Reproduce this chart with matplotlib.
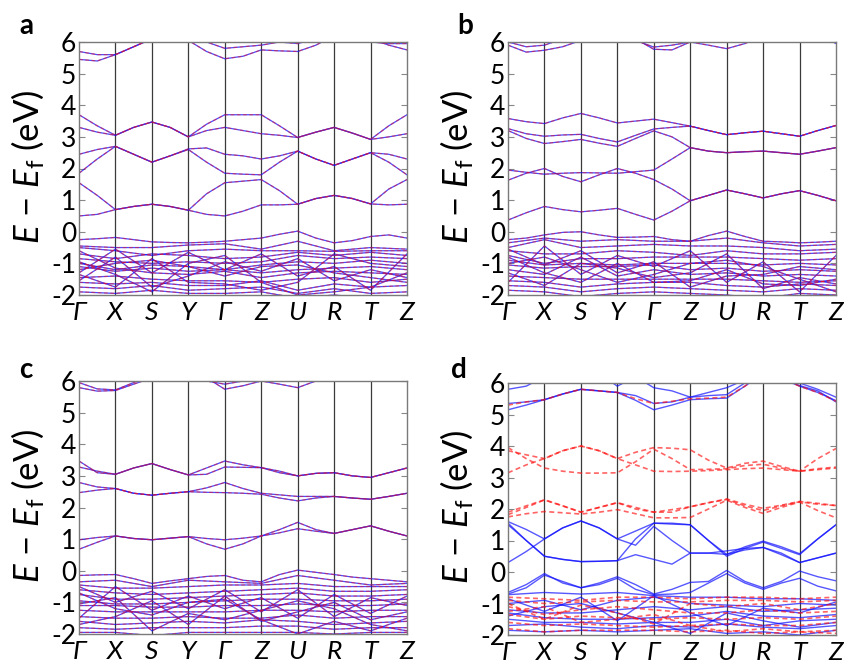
"""Spin-resolved band structures, four panels (a-d)."""
import matplotlib
matplotlib.use('Agg')
import matplotlib.pyplot as plt
import numpy as np

plt.rcParams['font.family'] = ['Lato', 'DejaVu Sans']
plt.rcParams['mathtext.fontset'] = 'custom'
plt.rcParams['mathtext.rm'] = 'Lato'
plt.rcParams['mathtext.it'] = 'Lato:italic'
plt.rcParams['axes.unicode_minus'] = False

# k-path
K_LABELS = ['Γ', 'X', 'S', 'Y', 'Γ', 'Z', 'U', 'R', 'T', 'Z']
K_NODES = np.arange(10)
K_FINE = np.arange(19) / 2.0   # nodes + segment midpoints

# ---------------- panel a ----------------
A_COND = [
    [0.5, 0.55, 0.7, 0.8, 0.87, 0.8, 0.68, 0.55, 0.5, 0.65, 0.85, 0.85, 0.87, 1.05, 1.15, 1.05, 0.88, 0.85, 0.87],
    [1.55, 1.15, 0.7, 0.8, 0.87, 0.8, 0.68, 1.2, 1.55, 1.6, 1.65, 1.3, 0.87, 1.05, 1.15, 1.05, 0.88, 1.35, 1.65],
    [1.85, 2.3, 2.7, 2.45, 2.2, 2.4, 2.6, 2.2, 1.85, 1.82, 1.8, 2.2, 2.55, 2.3, 2.1, 2.3, 2.5, 2.2, 1.8],
    [2.45, 2.6, 2.7, 2.45, 2.2, 2.4, 2.62, 2.65, 2.45, 2.4, 2.3, 2.4, 2.55, 2.3, 2.1, 2.3, 2.5, 2.45, 2.3],
    [3.3, 3.15, 3.05, 3.3, 3.47, 3.3, 3.0, 3.2, 3.3, 3.2, 3.1, 3.05, 2.98, 3.15, 3.3, 3.12, 2.92, 3.0, 3.1],
    [3.7, 3.35, 3.05, 3.3, 3.47, 3.3, 3.0, 3.4, 3.7, 3.7, 3.7, 3.35, 2.98, 3.15, 3.3, 3.12, 2.92, 3.35, 3.7],
    [5.45, 5.4, 5.6, 5.85, 6.1, 6.2, 6.05, 5.7, 5.47, 5.55, 5.75, 5.72, 5.7, 5.9, 6.2, 6.3, 6.1, 5.9, 5.75],
    [5.7, 5.6, 5.6, 5.85, 6.1, 6.3, 6.3, 6.0, 5.8, 5.85, 5.9, 6.0, 5.95, 6.1, 6.4, 6.3, 6.0, 5.95, 5.95],
    [-0.25, -0.22, -0.18, -0.25, -0.32, -0.34, -0.35, -0.33, -0.3, -0.25, -0.2, -0.08, 0.02, -0.2, -0.35, -0.28, -0.15, -0.1, -0.2],
]
A_VAL = [
    [-0.45, -0.5, -0.5, -0.42, -0.38, -0.55, -0.3, -0.6, -0.5, -0.55],
    [-0.5, -0.6, -0.75, -0.6, -0.55, -0.6, -0.6, -0.62, -0.6, -0.6],
    [-0.7, -0.85, -0.7, -0.75, -0.85, -0.8, -0.65, -0.75, -0.65, -0.75],
    [-0.85, -0.95, -1.0, -0.95, -1.0, -0.95, -0.75, -0.85, -0.8, -0.85],
    [-1.0, -1.2, -1.05, -1.1, -1.2, -1.05, -0.95, -1.0, -0.9, -1.0],
    [-1.1, -1.25, -1.15, -1.25, -1.2, -1.3, -1.2, -1.15, -1.1, -1.2],
    [-1.3, -0.55, -1.3, -1.35, -1.25, -1.45, -1.3, -1.25, -1.3, -1.35],
    [-1.45, -1.4, -1.5, -1.55, -1.55, -1.6, -1.5, -1.45, -1.6, -1.5],
    [-1.6, -1.65, -1.6, -1.7, -1.7, -1.55, -1.85, -1.65, -1.75, -1.7],
    [-1.75, -1.8, -1.7, -1.85, -1.8, -1.75, -1.95, -1.8, -1.95, -1.9],
    [-1.9, -1.95, -1.85, -1.95, -1.95, -1.9, -2.1, -2.0, -2.1, -2.05],
    [-0.95, -1.35, -1.9, -1.0, -0.75, -1.6, -2.0, -1.9, -1.75, -1.3],
    [-1.2, -1.0, -0.9, -1.1, -1.4, -1.1, -1.05, -1.3, -1.45, -1.6],
    [-0.6, -1.15, -1.3, -0.65, -1.2, -0.7, -1.4, -1.1, -1.85, -0.7],
    [-1.55, -0.8, -1.75, -1.4, -0.95, -1.25, -0.85, -1.55, -1.2, -1.45],
    [-1.35, -1.75, -0.85, -1.6, -1.65, -1.85, -1.6, -0.7, -1.0, -1.1],
]

# ---------------- panel b ----------------
B_COND = [
    [0.37, 0.6, 0.8, 0.7, 0.63, 0.68, 0.74, 0.55, 0.37, 0.65, 0.98, 1.15, 1.32, 1.2, 1.07, 1.2, 1.3, 1.15, 0.98],
    [1.63, 1.85, 2.0, 1.75, 1.58, 1.8, 2.0, 1.85, 1.65, 1.35, 0.98, 1.15, 1.32, 1.2, 1.07, 1.2, 1.3, 1.15, 0.98],
    [1.95, 1.88, 1.82, 1.85, 1.87, 1.86, 1.85, 1.9, 1.95, 2.3, 2.66, 2.55, 2.5, 2.53, 2.55, 2.5, 2.45, 2.55, 2.66],
    [3.2, 2.95, 2.79, 2.85, 2.92, 2.8, 2.7, 2.95, 3.19, 3.0, 2.66, 2.55, 2.5, 2.53, 2.55, 2.5, 2.45, 2.55, 2.66],
    [3.26, 3.1, 3.02, 3.06, 3.08, 2.95, 2.84, 3.05, 3.25, 3.3, 3.34, 3.2, 3.07, 3.13, 3.18, 3.1, 3.02, 3.2, 3.36],
    [3.58, 3.48, 3.42, 3.6, 3.74, 3.6, 3.44, 3.5, 3.56, 3.45, 3.34, 3.2, 3.07, 3.13, 3.18, 3.1, 3.02, 3.2, 3.36],
    [5.9, 5.68, 5.74, 5.85, 6.05, 6.2, 6.2, 6.05, 5.84, 5.9, 6.0, 5.9, 5.79, 5.95, 6.2, 6.3, 6.3, 6.2, 6.0],
    [6.0, 5.85, 5.9, 6.1, 6.3, 6.4, 6.4, 6.1, 5.77, 5.75, 6.0, 6.1, 6.2, 6.3, 6.4, 6.4, 6.4, 6.3, 5.95],
    [-0.25, -0.2, -0.1, -0.02, 0.0, -0.1, -0.18, -0.17, -0.15, -0.25, -0.3, -0.12, 0.02, -0.15, -0.3, -0.32, -0.35, -0.33, -0.3],
]
B_VAL = [
    [-0.35, -0.2, -0.3, -0.25, -0.3, -0.3, -0.2, -0.35, -0.45, -0.4],
    [-0.5, -0.25, -0.5, -0.45, -0.4, -0.45, -0.45, -0.5, -0.6, -0.55],
    [-0.6, -0.7, -0.7, -0.6, -0.65, -0.75, -0.6, -0.7, -0.7, -0.65],
    [-0.75, -1.0, -0.85, -0.85, -0.8, -0.8, -0.8, -0.85, -0.9, -0.85],
    [-0.9, -1.05, -1.0, -1.05, -1.0, -1.0, -1.0, -1.05, -1.0, -1.05],
    [-1.05, -1.15, -1.1, -1.1, -1.05, -1.2, -1.15, -1.25, -1.2, -1.25],
    [-1.2, -1.35, -0.8, -1.4, -1.2, -1.35, -1.3, -1.4, -1.35, -1.4],
    [-1.4, -1.45, -1.5, -1.5, -1.5, -1.5, -1.5, -1.55, -1.6, -1.55],
    [-1.55, -1.6, -1.75, -1.65, -1.6, -1.6, -1.7, -1.75, -1.65, -1.7],
    [-1.7, -1.75, -1.9, -1.8, -1.75, -1.8, -1.85, -1.9, -1.8, -1.85],
    [-1.85, -1.9, -2.05, -1.95, -1.9, -1.95, -2.0, -2.1, -1.95, -2.0],
    [-0.8, -1.3, -1.6, -1.0, -1.6, -1.55, -1.2, -1.65, -1.7, -1.5],
    [-1.0, -0.8, -1.2, -1.6, -1.35, -1.0, -0.9, -1.1, -1.5, -1.9],
    [-0.55, -1.05, -0.6, -1.3, -0.95, -1.75, -1.4, -1.35, -1.1, -1.2],
    [-1.6, -0.45, -1.35, -0.75, -1.1, -0.6, -1.6, -0.95, -1.9, -0.75],
    [-1.3, -1.7, -1.0, -1.15, -1.45, -1.3, -0.7, -1.8, -1.45, -1.65],
]

# ---------------- panel c ----------------
C_COND = [
    [0.68, 0.9, 1.1, 1.02, 0.98, 1.03, 1.08, 0.85, 0.68, 0.85, 1.1, 1.2, 1.33, 1.25, 1.18, 1.3, 1.42, 1.25, 1.1],
    [0.98, 1.05, 1.1, 1.02, 0.98, 1.03, 1.08, 1.02, 0.98, 1.03, 1.1, 1.3, 1.53, 1.3, 1.18, 1.3, 1.42, 1.25, 1.1],
    [2.47, 2.55, 2.6, 2.45, 2.39, 2.45, 2.5, 2.48, 2.47, 2.45, 2.42, 2.3, 2.21, 2.3, 2.35, 2.3, 2.26, 2.35, 2.45],
    [2.79, 2.65, 2.6, 2.45, 2.39, 2.45, 2.5, 2.62, 2.79, 2.6, 2.45, 2.4, 2.35, 2.35, 2.35, 2.3, 2.26, 2.35, 2.45],
    [3.28, 3.15, 3.05, 3.25, 3.39, 3.2, 3.03, 3.05, 3.28, 3.27, 3.26, 3.1, 3.0, 3.08, 3.1, 3.0, 2.95, 3.1, 3.25],
    [3.47, 3.1, 3.05, 3.25, 3.39, 3.2, 3.03, 3.25, 3.47, 3.35, 3.26, 3.15, 3.0, 3.08, 3.1, 3.0, 2.95, 3.1, 3.25],
    [5.79, 5.68, 5.7, 5.9, 6.1, 6.3, 6.3, 6.1, 5.74, 5.85, 6.0, 5.9, 5.79, 6.0, 6.3, 6.3, 6.3, 6.2, 6.0],
    [5.95, 5.75, 5.72, 5.95, 6.2, 6.4, 6.4, 6.0, 5.9, 6.0, 6.1, 6.1, 6.2, 6.3, 6.4, 6.4, 6.4, 6.3, 6.0],
    [-0.15, -0.13, -0.12, -0.25, -0.4, -0.32, -0.25, -0.18, -0.15, -0.3, -0.35, -0.12, 0.02, -0.05, -0.12, -0.2, -0.25, -0.3, -0.35],
]
C_VAL = [
    [-0.35, -0.3, -0.5, -0.3, -0.35, -0.4, -0.15, -0.3, -0.45, -0.4],
    [-0.45, -0.55, -0.55, -0.5, -0.45, -0.45, -0.4, -0.5, -0.5, -0.5],
    [-0.6, -0.7, -0.75, -0.7, -0.65, -0.6, -0.55, -0.65, -0.65, -0.6],
    [-0.75, -0.9, -0.9, -0.85, -0.8, -0.75, -0.7, -0.8, -0.8, -0.75],
    [-0.95, -1.05, -1.05, -1.0, -0.95, -0.9, -0.9, -0.95, -0.95, -0.9],
    [-1.1, -1.1, -1.15, -1.15, -1.1, -1.1, -1.05, -1.1, -1.1, -1.05],
    [-1.25, -1.3, -1.3, -1.3, -1.3, -1.25, -1.25, -1.3, -1.25, -1.25],
    [-1.45, -1.5, -1.5, -1.45, -1.5, -1.5, -1.4, -1.5, -1.45, -1.45],
    [-1.6, -1.7, -1.65, -1.6, -1.65, -1.55, -1.6, -1.7, -1.65, -1.6],
    [-1.8, -1.85, -1.8, -1.8, -1.8, -1.75, -1.75, -1.85, -1.8, -1.8],
    [-1.95, -1.95, -2.05, -1.95, -1.95, -1.95, -1.95, -2.0, -1.95, -1.95],
    [-0.7, -1.2, -1.4, -1.0, -0.9, -1.55, -2.0, -1.6, -1.9, -1.5],
    [-1.05, -0.85, -1.9, -1.35, -1.55, -1.25, -0.95, -1.2, -1.7, -1.9],
    [-0.5, -1.0, -0.65, -1.2, -0.6, -1.3, -0.6, -1.45, -0.85, -1.1],
    [-1.5, -0.5, -1.25, -0.8, -1.2, -0.85, -1.5, -0.75, -1.35, -0.8],
    [-1.7, -1.45, -0.95, -1.7, -0.8, -1.6, -1.3, -1.0, -1.55, -1.3],
]

# ---------------- panel d (spins split) ----------------
D_UP_COND = [
    [0.3, 0.65, 1.05, 1.4, 1.62, 1.4, 1.05, 0.85, 1.45, 1.0, 0.6, 0.6, 0.56, 0.7, 0.78, 0.55, 0.3, 0.45, 0.6],
    [1.55, 1.0, 0.5, 0.4, 0.33, 0.34, 0.36, 0.55, 0.4, 0.25, 0.6, 0.6, 0.67, 0.75, 0.78, 0.6, 0.3, 0.45, 0.6],
    [1.6, 1.35, 1.05, 1.4, 1.62, 1.4, 1.05, 1.3, 1.55, 1.55, 1.5, 1.0, 0.56, 0.8, 0.98, 0.8, 0.58, 1.05, 1.5],
    [1.5, 1.0, 0.5, 0.4, 0.33, 0.34, 0.36, 1.05, 1.55, 1.52, 1.5, 1.0, 0.5, 0.75, 0.95, 0.75, 0.55, 1.05, 1.5],
    [5.35, 5.4, 5.47, 5.65, 5.8, 5.75, 5.7, 5.45, 5.15, 5.3, 5.47, 5.5, 5.52, 5.9, 6.3, 6.2, 5.9, 5.7, 5.44],
    [5.15, 5.3, 5.47, 5.65, 5.8, 5.75, 5.7, 5.6, 5.35, 5.4, 5.55, 5.6, 5.63, 6.0, 6.4, 6.1, 5.92, 5.75, 5.4],
    [5.8, 5.9, 6.2, 6.4, 6.5, 6.3, 5.9, 6.2, 5.85, 5.75, 5.55, 5.7, 5.85, 6.1, 6.4, 6.2, 6.0, 5.8, 5.55],
    [-0.65, -0.4, -0.05, -0.35, -0.5, -0.35, -0.15, -0.4, -0.7, -0.55, -0.33, -0.3, 0.05, -0.3, -0.5, -0.3, 0.03, -0.15, -0.28],
    [-0.7, -0.5, -0.1, -0.3, -0.5, -0.4, -0.2, -0.55, -0.72, -0.7, -0.65, -0.35, -0.05, -0.35, -0.55, -0.35, -0.2, -0.45, -0.6],
]
D_UP_VAL = [
    [-0.72, -0.65, -0.7, -0.65, -0.75, -0.8, -0.8, -0.85, -0.85, -0.9],
    [-1.0, -0.9, -1.2, -0.9, -0.8, -1.0, -1.05, -1.1, -1.0, -1.05],
    [-1.2, -1.3, -1.3, -1.2, -1.1, -1.2, -1.1, -1.25, -1.2, -1.15],
    [-1.3, -1.45, -1.5, -1.5, -1.45, -1.4, -1.25, -1.4, -1.45, -1.35],
    [-1.5, -1.6, -1.6, -1.65, -1.6, -1.6, -1.5, -1.7, -1.55, -1.5],
    [-1.7, -1.65, -1.75, -1.8, -1.7, -1.75, -1.65, -1.75, -1.8, -1.7],
    [-1.85, -1.9, -1.85, -1.9, -1.85, -1.8, -1.95, -1.9, -2.0, -1.85],
    [-1.4, -1.1, -1.0, -1.3, -1.6, -1.95, -1.3, -1.55, -1.75, -1.6],
    [-0.85, -1.25, -0.8, -1.55, -0.75, -1.3, -1.7, -1.15, -1.3, -0.95],
]
D_DN_COND = [
    [3.95, 3.6, 3.3, 3.2, 3.14, 3.14, 3.15, 3.5, 3.9, 3.6, 3.25, 3.26, 3.28, 3.38, 3.42, 3.3, 3.2, 3.6, 3.92],
    [3.85, 3.72, 3.6, 3.85, 4.0, 3.85, 3.6, 3.4, 3.2, 3.19, 3.2, 3.22, 3.25, 3.28, 3.3, 3.25, 3.2, 3.25, 3.3],
    [3.15, 3.4, 3.6, 3.85, 4.0, 3.85, 3.6, 3.8, 3.95, 3.93, 3.88, 3.55, 3.3, 3.45, 3.52, 3.35, 3.2, 3.28, 3.33],
    [1.9, 2.1, 2.29, 2.1, 1.9, 2.05, 2.2, 2.05, 1.9, 1.98, 2.07, 2.2, 2.32, 2.15, 2.02, 2.12, 2.24, 2.18, 2.11],
    [1.75, 1.85, 1.92, 1.88, 1.84, 1.9, 1.98, 1.85, 1.72, 1.72, 1.73, 2.0, 2.28, 2.05, 1.86, 2.05, 2.22, 1.95, 1.72],
    [1.82, 2.05, 2.29, 2.1, 1.9, 2.05, 2.2, 2.0, 1.9, 1.9, 2.07, 2.2, 2.3, 2.1, 1.95, 2.1, 2.23, 2.15, 2.11],
    [5.3, 5.4, 5.47, 5.65, 5.8, 5.75, 5.7, 5.5, 5.35, 5.42, 5.5, 5.52, 5.55, 5.9, 6.3, 6.15, 5.9, 5.7, 5.42],
]
D_DN_VAL = [
    [-0.8, -0.85, -0.9, -0.8, -0.8, -0.85, -0.8, -0.8, -0.85, -0.8],
    [-0.9, -1.0, -0.95, -0.9, -0.95, -0.95, -0.9, -0.9, -0.95, -0.9],
    [-1.1, -1.35, -1.2, -1.1, -1.2, -1.3, -1.3, -1.2, -1.3, -1.25],
    [-1.35, -1.5, -1.4, -1.45, -1.5, -1.45, -1.5, -1.45, -1.5, -1.4],
    [-1.6, -1.7, -1.65, -1.7, -1.75, -1.7, -1.65, -1.7, -1.7, -1.6],
    [-1.8, -1.9, -1.85, -1.85, -1.85, -1.9, -1.85, -1.95, -1.9, -1.85],
    [-1.25, -1.1, -1.6, -1.5, -1.35, -1.7, -1.9, -1.8, -1.9, -1.95],
    [-1.0, -1.5, -1.05, -1.3, -1.65, -1.0, -1.1, -1.0, -1.2, -1.0],
]

BLUE = '#1010ff'
RED = '#ff1010'
W, H = 844, 663
# axes boxes in pixels (left, top, right, bottom) and panel-letter spots
BOXES = [(79, 42, 407, 295), (508, 42, 836, 295),
         (79, 381, 407, 634), (508, 383, 836, 635)]
LETTERS = [('a', 26, 26), ('b', 465, 26), ('c', 26, 370), ('d', 459, 370)]


def plot_spin(ax, bands_fine, bands_nodes, spin, lw=0.9, alpha=0.6):
    if spin == 'up':
        kw = dict(color=BLUE, lw=lw, alpha=alpha, ls='-')
    else:
        kw = dict(color=RED, lw=lw, alpha=alpha, ls=(0, (3, 2)))
    for e in bands_fine:
        ax.plot(K_FINE, e, **kw)
    for e in bands_nodes:
        ax.plot(K_NODES, e, **kw)


def style_axes(ax):
    ax.set_xlim(0, 9)
    ax.set_ylim(-2, 6)
    for k in K_NODES[1:-1]:
        ax.axvline(k, color='#3a3a3a', lw=0.9, zorder=0.5)
    for s in ax.spines.values():
        s.set_color('#7a7a7a')
        s.set_linewidth(1.0)
    ax.set_yticks(range(-2, 7))
    ax.set_yticklabels([str(v) for v in range(-2, 7)], fontsize=19)
    ax.set_xticks(K_NODES)
    ax.set_xticklabels(K_LABELS, fontsize=19, fontstyle='italic')
    ax.tick_params(axis='x', length=0, pad=4)
    ax.tick_params(axis='y', direction='in', length=4, color='#888888',
                   right=True, pad=2)


fig = plt.figure(figsize=(W / 100, H / 100), dpi=100)
fig.patch.set_facecolor('white')

axes = []
for (l, t, r, b) in BOXES:
    axes.append(fig.add_axes([l / W, 1 - b / H, (r - l) / W, (b - t) / H]))

# spin up and spin down coincide in a-c
for ax, cond, val in [(axes[0], A_COND, A_VAL),
                      (axes[1], B_COND, B_VAL),
                      (axes[2], C_COND, C_VAL)]:
    plot_spin(ax, cond, val, 'up', lw=0.9, alpha=0.75)
    plot_spin(ax, cond, val, 'dn', lw=0.9, alpha=0.5)
    style_axes(ax)

ax = axes[3]
plot_spin(ax, D_UP_COND, D_UP_VAL, 'up', lw=1.0, alpha=0.7)
plot_spin(ax, D_DN_COND, D_DN_VAL, 'dn', lw=1.2, alpha=0.65)
style_axes(ax)

# y labels and panel letters placed in figure pixels
for (l, t, r, b) in BOXES:
    fig.text((l - 51) / W, 1 - ((t + b) / 2 - 2) / H,
             '$E$ − $E_\\mathrm{f}$ (eV)', rotation=90, fontsize=25,
             ha='center', va='center')
for lab, x, y in LETTERS:
    fig.text(x / W, 1 - y / H, lab, fontsize=20, fontweight='bold',
             ha='center', va='center')

plt.savefig('out.png', dpi=100, facecolor=fig.get_facecolor())
plt.close()
